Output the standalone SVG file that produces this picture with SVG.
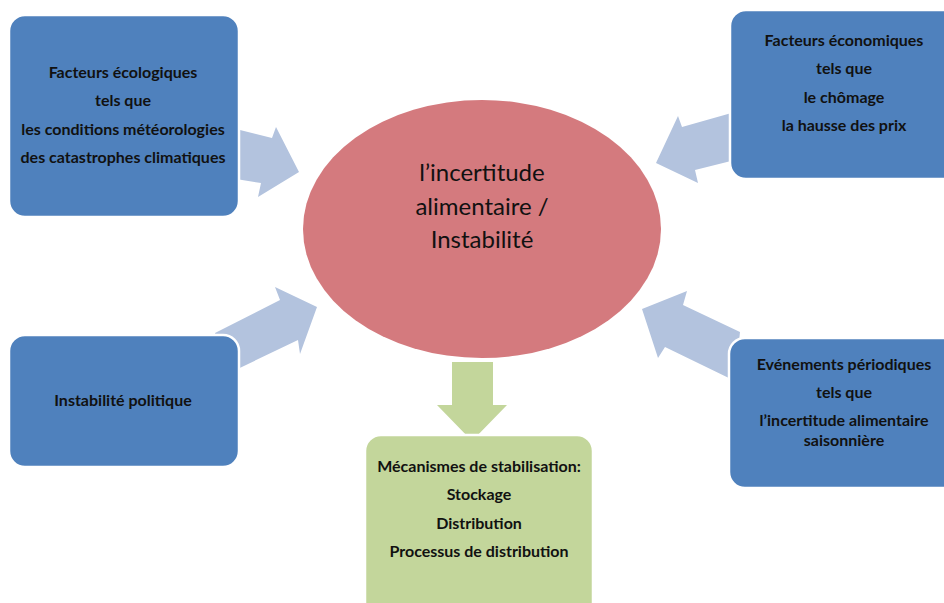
<svg xmlns="http://www.w3.org/2000/svg" width="944" height="603" viewBox="0 0 944 603">
<style>
.box{fill:#4F81BD;stroke:#ffffff;stroke-width:2.5}
.gbox{fill:#C3D69B;stroke:#ffffff;stroke-width:2.5}
.arr{fill:#B3C3DE}
.garr{fill:#C3D69B}
.t{font-family:Lato,"Open Sans","Liberation Sans",sans-serif;font-weight:bold;font-size:16px;fill:#111;text-anchor:middle}
.c{font-family:Lato,"Open Sans","Liberation Sans",sans-serif;font-size:24px;fill:#111;text-anchor:middle}
</style>
<rect width="944" height="603" fill="#ffffff"/>
<g id="connectors">
<polygon class="arr" points="236,129 272,138 276,127 299,172 258,197 261,183 236,179"/>
<polygon class="arr" points="735,112 682,127 678,116 656,163 698,183 695,170 735,160"/>
<polygon class="arr" points="215,333 280,300 275,287 317,307 300,354 298,340 225,375"/>
<polygon class="arr" points="642,309 687,291 683,305 740,332 735,381 665,347 658,358"/>
<polygon class="garr" points="452,362 493,362 493,405 507,405 472,441 437,405 452,405"/>
</g>
<g id="center">
<ellipse cx="482" cy="229" rx="179" ry="129" fill="#D47A7E"/>
<text class="c" x="482" y="181">l’incertitude</text>
<text class="c" x="482" y="215">alimentaire /</text>
<text class="c" x="482" y="248">Instabilité</text>
</g>
<g id="ecologiques">
<rect class="box" x="9" y="15" width="230" height="202" rx="16"/>
<text class="t" x="123" y="78">Facteurs écologiques</text>
<text class="t" x="123" y="106">tels que</text>
<text class="t" x="123" y="135">les conditions météorologies</text>
<text class="t" x="123" y="163">des catastrophes climatiques</text>
</g>
<g id="economiques">
<rect class="box" x="730" y="10" width="240" height="169" rx="16"/>
<text class="t" x="844" y="46">Facteurs économiques</text>
<text class="t" x="844" y="74">tels que</text>
<text class="t" x="844" y="103">le chômage</text>
<text class="t" x="844" y="131">la hausse des prix</text>
</g>
<g id="politique">
<rect class="box" x="9" y="335" width="230" height="132" rx="16"/>
<text class="t" x="123" y="406">Instabilité politique</text>
</g>
<g id="periodiques">
<rect class="box" x="729" y="338" width="240" height="150" rx="16"/>
<text class="t" x="844" y="370">Evénements périodiques</text>
<text class="t" x="844" y="398">tels que</text>
<text class="t" x="844" y="426">l’incertitude alimentaire</text>
<text class="t" x="844" y="446">saisonnière</text>
</g>
<g id="stabilisation">
<rect class="gbox" x="365" y="435" width="228" height="190" rx="16"/>
<text class="t" x="479" y="472">Mécanismes de stabilisation:</text>
<text class="t" x="479" y="500">Stockage</text>
<text class="t" x="479" y="529">Distribution</text>
<text class="t" x="479" y="557">Processus de distribution</text>
</g>
</svg>
